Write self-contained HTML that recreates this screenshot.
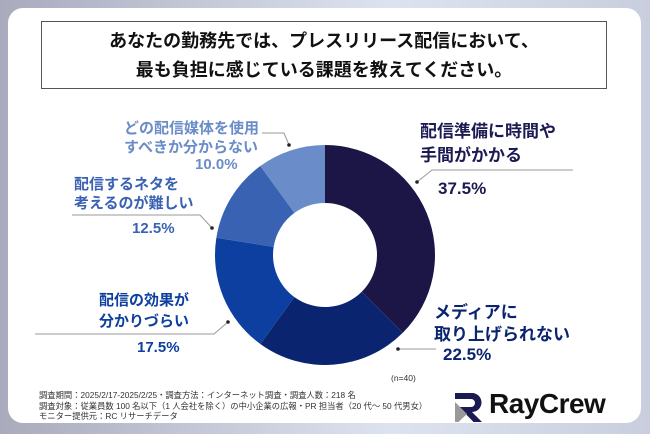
<!DOCTYPE html>
<html><head><meta charset="utf-8"><style>
body{margin:0;width:650px;height:434px;overflow:hidden;background:linear-gradient(90deg,#a9abbd,#dde3ee 60%,#c9cede);font-family:"Liberation Sans","Noto Sans CJK JP",sans-serif;}
.card{position:absolute;left:8px;top:8px;width:633px;height:415px;background:#fff;border-radius:15px;}
.title{position:absolute;left:41px;top:21px;width:566px;height:68px;border:1.5px solid #555;text-align:center;font-weight:bold;font-size:18px;line-height:29px;padding-top:5px;box-sizing:border-box;color:#111;}
.t{position:absolute;font-weight:bold;white-space:nowrap;}
.note{position:absolute;left:39px;font-size:8.3px;color:#333;line-height:10.5px;white-space:nowrap;}
</style></head><body>
<div class="card"></div>
<div class="title">あなたの勤務先では、プレスリリース配信において、<br>最も負担に感じている課題を教えてください。</div>
<svg id="chart" width="650" height="434" style="position:absolute;left:0;top:0"></svg>
<div class="t" style="left:124px;top:119px;font-size:15px;line-height:19px;color:#6a8cc8;text-align:right;width:132px">どの配信媒体を使用<br>すべきか分からない</div>
<div class="t" style="left:195px;top:156px;font-size:15px;color:#6a8cc8">10.0%</div>
<div class="t" style="left:74px;top:175px;font-size:15px;line-height:19px;color:#3a62b3">配信するネタを<br>考えるのが難しい</div>
<div class="t" style="left:132px;top:220px;font-size:15px;color:#3a62b3">12.5%</div>
<div class="t" style="left:99px;top:290px;font-size:15px;line-height:21px;color:#0c3f9f">配信の効果が<br>分かりづらい</div>
<div class="t" style="left:137px;top:339px;font-size:15px;color:#0c3f9f">17.5%</div>
<div class="t" style="left:420px;top:120px;font-size:17px;line-height:24px;color:#1c1a52">配信準備に時間や<br>手間がかかる</div>
<div class="t" style="left:438px;top:179px;font-size:17px;color:#1c1a52">37.5%</div>
<div class="t" style="left:434px;top:302px;font-size:17px;line-height:22px;color:#0b2470">メディアに<br>取り上げられない</div>
<div class="t" style="left:443px;top:345px;font-size:17px;color:#0b2470">22.5%</div>
<div class="t" style="left:391px;top:373px;font-size:8.5px;font-weight:normal;color:#333">(n=40)</div>
<div class="note" style="top:390px">調査期間：2025/2/17-2025/2/25・調査方法：インターネット調査・調査人数：218 名<br>調査対象：従業員数 100 名以下（1 人会社を除く）の中小企業の広報・PR 担当者（20 代～ 50 代男女）<br>モニター提供元：RC リサーチデータ</div>
<div style="position:absolute;left:452px;top:390px;">
<svg width="34" height="34" style="position:absolute;left:0;top:0"><path d="M3 3h17a9.5 9.5 0 0 1 0 19l10 10h-8.5L7 17h12a4 4 0 0 0 0-8H3z" fill="#1c1a52"/><path d="M3 12l12 12-8.5 8H3z" fill="#999"/></svg>
<span style="position:absolute;left:37px;top:-2px;font-size:28px;font-weight:bold;color:#111;white-space:nowrap;letter-spacing:-0.5px">RayCrew</span></div>
<script>
const categories=["配信準備に時間や手間がかかる","メディアに取り上げられない","配信の効果が分かりづらい","配信するネタを考えるのが難しい","どの配信媒体を使用すべきか分からない"];
const values=[37.5,22.5,17.5,12.5,10.0];
const colors=["#1c1646","#0b2470","#0c3f9f","#3a62b3","#6a8cc8"];
const svg=document.getElementById('chart');const NS='http://www.w3.org/2000/svg';
const cx=325,cy=255,R=110,r=52;
const total=values.reduce((a,b)=>a+b,0);
function pt(a,rad){return [cx+rad*Math.sin(a),cy-rad*Math.cos(a)];}
let a0=0;
values.forEach((v,i)=>{const a1=a0+v/total*2*Math.PI;const big=(a1-a0)>Math.PI?1:0;
const p1=pt(a0,R),p2=pt(a1,R),p3=pt(a1,r),p4=pt(a0,r);
const p=document.createElementNS(NS,'path');
p.setAttribute('d',`M${p1}A${R},${R} 0 ${big} 1 ${p2}L${p3}A${r},${r} 0 ${big} 0 ${p4}Z`);
p.setAttribute('fill',colors[i]);


svg.appendChild(p);a0=a1;});
const leaders=[[[573,170],[432,170],[417,182]],[[436,349],[398,349]],[[35,334],[214,334],[228,322]],[[72,215],[200,215],[212,228]],[[262,133],[284,133],[289,145]]];
leaders.forEach((l,i)=>{const pl=document.createElementNS(NS,'polyline');
pl.setAttribute('points',l.map(p=>p.join(',')).join(' '));pl.setAttribute('fill','none');pl.setAttribute('stroke','#999');pl.setAttribute('stroke-width','1');


svg.appendChild(pl);
const c=document.createElementNS(NS,'circle');const e=l[l.length-1];c.setAttribute('cx',e[0]);c.setAttribute('cy',e[1]);c.setAttribute('r',1.8);c.setAttribute('fill','#222');


svg.appendChild(c);});
</script>
</body></html>
